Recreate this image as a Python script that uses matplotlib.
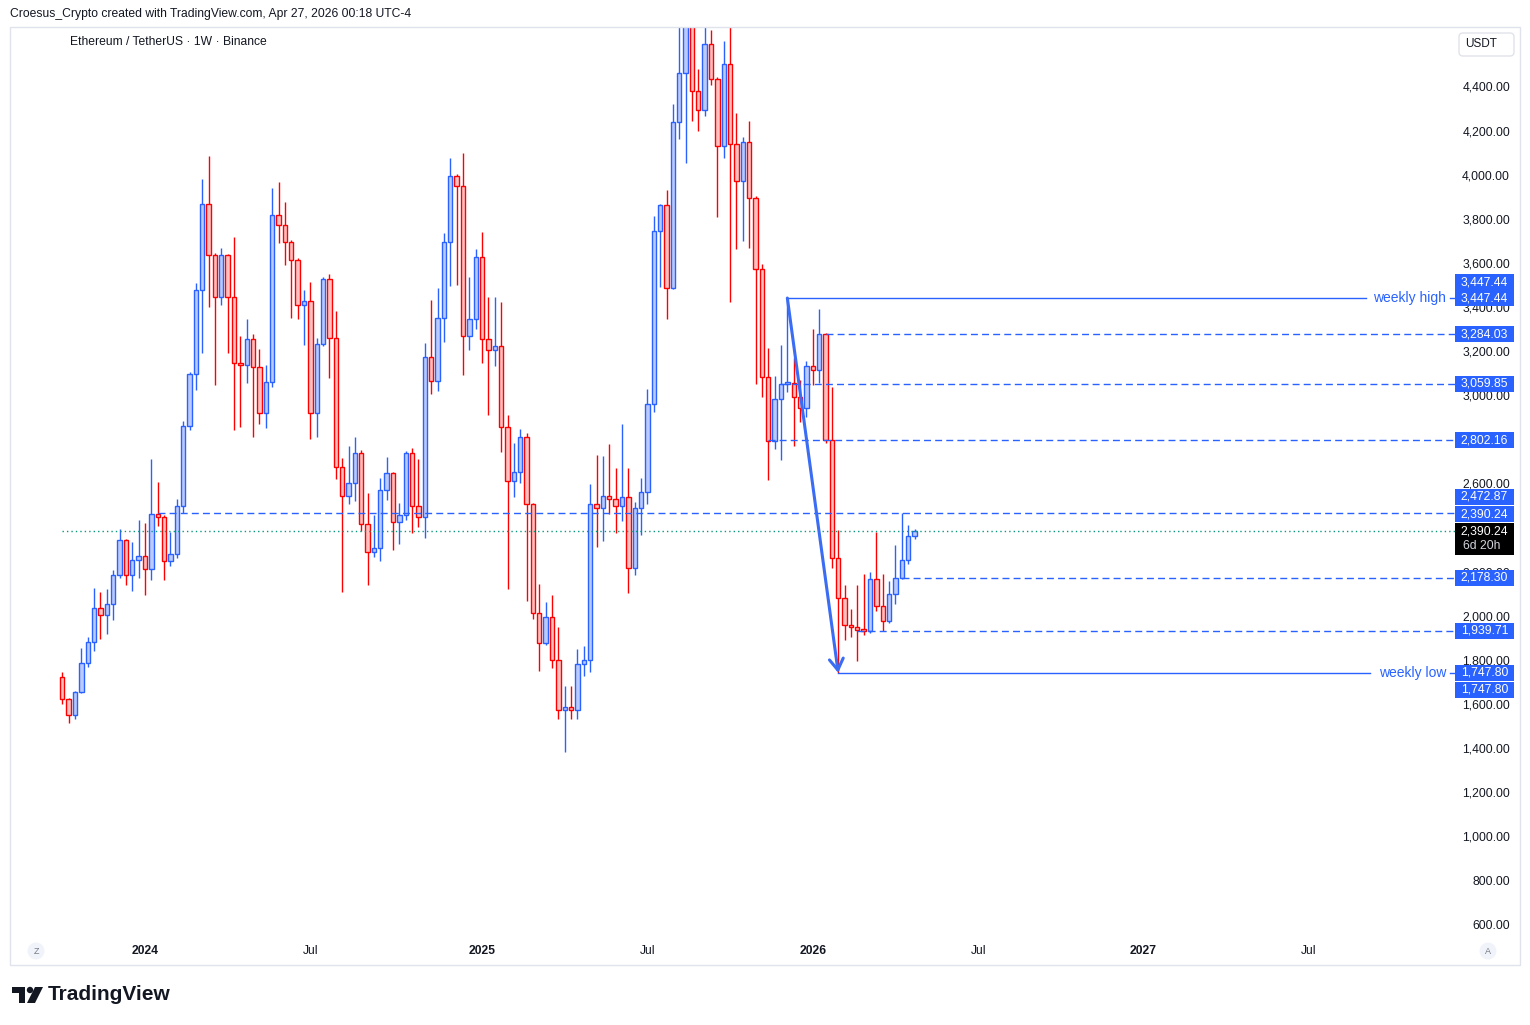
import math
import numpy as np
import pandas as pd
import matplotlib
matplotlib.use("Agg")
import matplotlib.pyplot as plt
from matplotlib.patches import Rectangle, Circle, Polygon, FancyBboxPatch
from matplotlib.transforms import IdentityTransform, blended_transform_factory

# Ethereum / TetherUS weekly candles (Binance), first bar = week of 2023-10-02
start_week = "2023-10-02"
opens = [1728, 1628, 1555, 1660, 1791, 1886, 2041, 2009, 2059, 2190,
         2349, 2190, 2258, 2276, 2218, 2467, 2453, 2254, 2286, 2503,
         2868, 3101, 3484, 3873, 3641, 3451, 3641, 3451, 3152, 3143,
         3260, 3134, 2925, 3066, 3823, 3778, 3700, 3618, 3415, 3433,
         2925, 3239, 3534, 3265, 2683, 2550, 2607, 2743, 2422, 2295,
         2313, 2576, 2653, 2434, 2462, 2744, 2503, 2453, 3179, 3070,
         3356, 3700, 4000, 3954, 3277, 3351, 3632, 3261, 3211, 3229,
         2864, 2619, 2657, 2816, 2512, 2018, 1882, 2000, 1805, 1578,
         1592, 1580, 1786, 1805, 2512, 2494, 2548, 2535, 2503, 2544,
         2222, 2494, 2567, 2966, 3750, 3868, 3492, 4244, 4466, 4780,
         4385, 4299, 4598, 4440, 4136, 4507, 4145, 3977, 4154, 3900,
         3578, 3088, 2798, 2988, 3059.85, 3064, 2997, 2948, 3138, 3120,
         3284.03, 2802.16, 2267, 2086, 1964, 1955, 1942, 1939.71, 2172, 2050,
         1982, 2104, 2178.30, 2259, 2367]
highs = [1752, 1633, 1667, 1859, 1909, 2133, 2113, 2128, 2213, 2399,
         2355, 2341, 2440, 2427, 2717, 2613, 2463, 2385, 2535, 2890,
         3113, 3517, 3987, 4093, 3650, 3673, 3645, 3723, 3275, 3353,
         3284, 3216, 3144, 3947, 3974, 3883, 3710, 3630, 3484, 3520,
         3266, 3543, 3557, 3389, 2721, 2777, 2817, 2760, 2564, 2464,
         2630, 2728, 2660, 2517, 2755, 2768, 2716, 3242, 3439, 3493,
         3742, 4083, 4010, 4104, 3543, 3670, 3745, 3450, 3450, 3430,
         2917, 2789, 2852, 2835, 2517, 2151, 2068, 2100, 1954, 1687,
         1687, 1856, 1870, 2604, 2736, 2729, 2786, 2676, 2876, 2676,
         2523, 2630, 3035, 3818, 3873, 3937, 4326, 4790, 4890, 4950,
         4485, 4770, 4663, 4448, 4612, 4755, 4285, 4176, 4249, 3909,
         3600, 3220, 3093, 3233, 3447.44, 3174, 3076, 3162, 3306, 3398,
         3290, 3043, 2396, 2146, 2037, 2146, 2196, 2204, 2385, 2196,
         2163, 2326, 2472.87, 2417, 2399]
lows = [1605, 1522, 1540, 1655, 1776, 1848, 1903, 1925, 1986, 2180,
        2145, 2118, 2177, 2100, 2168, 2415, 2168, 2234, 2267, 2471,
        2851, 3031, 3200, 3408, 3055, 3418, 3200, 2851, 2865, 3064,
        2816, 2878, 2860, 3046, 3699, 3599, 3359, 3354, 3236, 2810,
        2819, 3230, 3086, 2629, 2113, 2512, 2526, 2393, 2148, 2272,
        2254, 2530, 2307, 2331, 2440, 2381, 2411, 2358, 3014, 3027,
        3250, 3500, 3508, 3100, 3214, 3306, 3155, 2917, 3141, 2751,
        2127, 2547, 2607, 2076, 1991, 1755, 1876, 1769, 1537, 1388,
        1537, 1537, 1732, 1750, 2320, 2347, 2467, 2381, 2435, 2111,
        2190, 2372, 2512, 2932, 3499, 3354, 3490, 4167, 4059, 4252,
        4206, 4275, 4412, 3814, 4081, 3431, 3671, 3708, 3676, 3056,
        3001, 2624, 2762, 2715, 3023, 2775, 2887, 2910, 3055, 3064,
        2789, 2222, 1747.80, 1896, 1909, 1800, 1918, 1930, 2027, 1937,
        1975, 2059, 2172, 2242, 2353]
closes = [1628, 1555, 1660, 1791, 1886, 2041, 2009, 2059, 2190, 2349,
          2190, 2258, 2276, 2218, 2467, 2453, 2254, 2286, 2503, 2868,
          3101, 3484, 3873, 3641, 3451, 3641, 3451, 3152, 3143, 3260,
          3134, 2925, 3066, 3823, 3778, 3700, 3618, 3415, 3433, 2925,
          3239, 3534, 3265, 2683, 2550, 2607, 2743, 2422, 2295, 2313,
          2576, 2653, 2434, 2462, 2744, 2503, 2453, 3179, 3070, 3356,
          3700, 4000, 3954, 3277, 3351, 3632, 3261, 3211, 3229, 2864,
          2619, 2657, 2816, 2512, 2018, 1882, 2000, 1805, 1578, 1592,
          1580, 1786, 1805, 2512, 2494, 2548, 2535, 2503, 2544, 2222,
          2494, 2567, 2966, 3750, 3868, 3492, 4244, 4466, 4780, 4385,
          4299, 4598, 4440, 4136, 4507, 4145, 3977, 4154, 3900, 3578,
          3088, 2798, 2988, 3059.85, 3064, 2997, 2948, 3138, 3120, 3284.03,
          2802.16, 2267, 2086, 1964, 1955, 1942, 1939.71, 2172, 2050, 1982,
          2104, 2178.30, 2259, 2367, 2390.24]

# drawn levels
dashed_levels = [2472.87, 3284.03, 3059.85, 2802.16, 2178.30, 1939.71]
dashed_from_bar = [15, 120, 113, 111, 132, 125]
weekly_high, weekly_high_bar = 3447.44, 114
weekly_low, weekly_low_bar = 1747.80, 122
last_price = 2390.24
countdown = "6d 20h"

price_ticks = [4400, 4200, 4000, 3800, 3600, 3400, 3200, 3000, 2800, 2600,
               2400, 2200, 2000, 1800, 1600, 1400, 1200, 1000, 800, 600]
time_label_dates = ["2024-01-01", "2024-07-01", "2025-01-01", "2025-07-01",
                    "2026-01-01", "2026-07-01", "2027-01-01", "2027-07-01"]
time_labels = ["2024", "Jul", "2025", "Jul", "2026", "Jul", "2027", "Jul"]

# axis-side price tags: (text, price, shift in px because TradingView stacks them)
price_tags = [("3,447.44", 3447.44, 16), ("3,447.44", 3447.44, 0),
              ("3,284.03", 3284.03, 0), ("3,059.85", 3059.85, 0),
              ("2,802.16", 2802.16, 0), ("2,472.87", 2472.87, 16),
              ("2,390.24", 2390.24, 17), ("2,178.30", 2178.30, 0),
              ("1,939.71", 1939.71, 0), ("1,747.80", 1747.80, 0),
              ("1,747.80", 1747.80, -17)]

# ---------------------------------------------------------------
W, H = 1530, 1025
BLUE = "#2962ff"
RED = "#ff0000"
UP_FILL = "#bccbff"
DN_FILL = "#ffc2c2"
TXT = "#131722"

plt.rcParams["font.family"] = ["Liberation Sans", "DejaVu Sans"]

fig = plt.figure(figsize=(W / 100, H / 100), dpi=100)
fig.patch.set_facecolor("white")

def fx(px):
    return px / W

def fy(py):
    return 1 - py / H

# plot area in pixels
L_PX, R_PX, T_PX, B_PX = 10, 1455, 27, 940
BAR0_PX, BAR_PX = 62.3, 6.36
ax = fig.add_axes([fx(L_PX), fy(B_PX), fx(R_PX) - fx(L_PX), fy(T_PX) - fy(B_PX)])
ax.set_xlim((L_PX - BAR0_PX) / BAR_PX, (R_PX - BAR0_PX) / BAR_PX)
ax.set_ylim(536.5, 4676.6)
ax.axis("off")
ax.set_facecolor("white")

n = len(closes)
x = np.arange(n)
o = np.array(opens, float)
h = np.array(highs, float)
l = np.array(lows, float)
c = np.array(closes, float)
up = c >= o

ax.vlines(x[up], l[up], h[up], color=BLUE, lw=1.0, zorder=2)
ax.vlines(x[~up], l[~up], h[~up], color=RED, lw=1.0, zorder=2)
for i in range(n):
    lo_, hi_ = min(o[i], c[i]), max(o[i], c[i])
    hgt = max(hi_ - lo_, 5)
    ax.add_patch(Rectangle((i - 0.34, lo_), 0.68, hgt,
                           facecolor=UP_FILL if up[i] else DN_FILL,
                           edgecolor=BLUE if up[i] else RED,
                           lw=1.0, zorder=3))

xmax = ax.get_xlim()[1]
for lv, b in zip(dashed_levels, dashed_from_bar):
    ax.plot([b, xmax], [lv, lv], color=BLUE, lw=1, dashes=(5, 3), zorder=4)

# current price line
ax.plot([0, xmax], [last_price, last_price], color="#089981", lw=1,
        dashes=(1, 2.2), zorder=4)

# weekly high / low rays with their text
def px_to_bar(px):
    return (px - BAR0_PX) / BAR_PX

ax.plot([weekly_high_bar, px_to_bar(1366)], [weekly_high] * 2, color=BLUE, lw=1, zorder=4)
ax.plot([px_to_bar(1450), xmax], [weekly_high] * 2, color=BLUE, lw=1, zorder=4)
ax.text(px_to_bar(1446), weekly_high, "weekly high", color=BLUE, fontsize=10,
        ha="right", va="center", zorder=5)
ax.plot([weekly_low_bar, px_to_bar(1370)], [weekly_low] * 2, color=BLUE, lw=1, zorder=4)
ax.plot([px_to_bar(1450), xmax], [weekly_low] * 2, color=BLUE, lw=1, zorder=4)
ax.text(px_to_bar(1446), weekly_low, "weekly low", color=BLUE, fontsize=10,
        ha="right", va="center", zorder=5)

# arrow from weekly high to weekly low
ax.annotate("", xy=(weekly_low_bar, weekly_low), xytext=(weekly_high_bar, weekly_high),
            arrowprops=dict(arrowstyle="->,head_length=0.8,head_width=0.5",
                            color="#3a6cf4", lw=2.2, shrinkA=0, shrinkB=0),
            zorder=6)

# ---------------- price axis ----------------
fig.canvas.draw()

def price_fy(p, shift=0):
    disp = ax.transData.transform((0, p))[1]
    return (disp + shift) / H

for t in price_ticks:
    fig.text(fx(1510), price_fy(t), f"{t:,.2f}", ha="right", va="center",
             fontsize=8.7, color=TXT, zorder=1)

for txt, p, sh in price_tags:
    yc = price_fy(p, sh)
    fig.patches.append(Rectangle((fx(1455), yc - 8 / H), fx(59), 16 / H,
                                 transform=fig.transFigure, facecolor=BLUE,
                                 edgecolor="none", zorder=2))
    fig.text(fx(1484.5), yc, txt, ha="center", va="center", fontsize=8.7,
             color="white", zorder=3)

yc = price_fy(last_price)
fig.patches.append(Rectangle((fx(1455), yc - 24 / H), fx(59), 32 / H,
                             transform=fig.transFigure, facecolor="black",
                             edgecolor="none", zorder=2))
fig.text(fx(1484.5), yc, "2,390.24", ha="center", va="center", fontsize=8.7,
         color="white", zorder=3)
fig.text(fx(1463), yc - 15 / H, countdown, ha="left", va="center", fontsize=8.7,
         color="#d1d4dc", zorder=3)

# ---------------- time axis ----------------
start = pd.Timestamp(start_week)
tpos = [math.ceil((pd.Timestamp(d) - start).days / 7) for d in time_label_dates]
tr = blended_transform_factory(ax.transData, fig.transFigure)
for p, lab in zip(tpos, time_labels):
    ax.text(p, fy(951), lab, transform=tr, ha="center", va="center",
            fontsize=8.7, color=TXT, fontweight="bold" if lab != "Jul" else "normal",
            clip_on=False)

# ---------------- frame & decorations ----------------
fig.patches.append(Rectangle((fx(10), fy(965)), fx(1510), (965 - 27) / H,
                             transform=fig.transFigure, facecolor="none",
                             edgecolor="#e0e3eb", lw=1, zorder=0))

ident = IdentityTransform()
for cx, letter in [(36, "Z"), (1488, "A")]:
    fig.patches.append(Circle((cx, H - 951), 8.5, transform=ident,
                              facecolor="#f0f3fa", edgecolor="none", zorder=2))
    fig.text(fx(cx), fy(951.5), letter, ha="center", va="center", fontsize=6.5,
             color="#787b86", zorder=3)

fig.patches.append(FancyBboxPatch((1459, H - 56), 55, 23,
                                  boxstyle="round,pad=0,rounding_size=4",
                                  transform=ident, facecolor="white",
                                  edgecolor="#e0e3eb", lw=1, zorder=2))
fig.text(fx(1481), fy(44), "USDT", ha="center", va="center", fontsize=8.5,
         color=TXT, zorder=3)

fig.text(fx(10), fy(14), "Croesus_Crypto created with TradingView.com, Apr 27, 2026 00:18 UTC-4",
         ha="left", va="center", fontsize=8.7, color=TXT)
fig.text(fx(70), fy(42), "Ethereum / TetherUS \u00b7 1W \u00b7 Binance",
         ha="left", va="center", fontsize=8.7, color=TXT)

# TradingView logo
fig.patches.append(Polygon([(12, H - 987), (25, H - 987), (25, H - 1003),
                            (19, H - 1003), (19, H - 993), (12, H - 993)],
                           closed=True, transform=ident, facecolor=TXT,
                           edgecolor="none", zorder=2))
fig.patches.append(Circle((30, H - 990), 3.2, transform=ident, facecolor=TXT,
                          edgecolor="none", zorder=2))
fig.patches.append(Polygon([(35, H - 987), (43, H - 987), (35, H - 1003),
                            (27, H - 1003)], closed=True, transform=ident,
                           facecolor=TXT, edgecolor="none", zorder=2))
fig.text(fx(48), fy(995), "TradingView", ha="left", va="center", fontsize=15,
         fontweight="bold", color=TXT)

fig.savefig("out.png", dpi=100, facecolor="white")
